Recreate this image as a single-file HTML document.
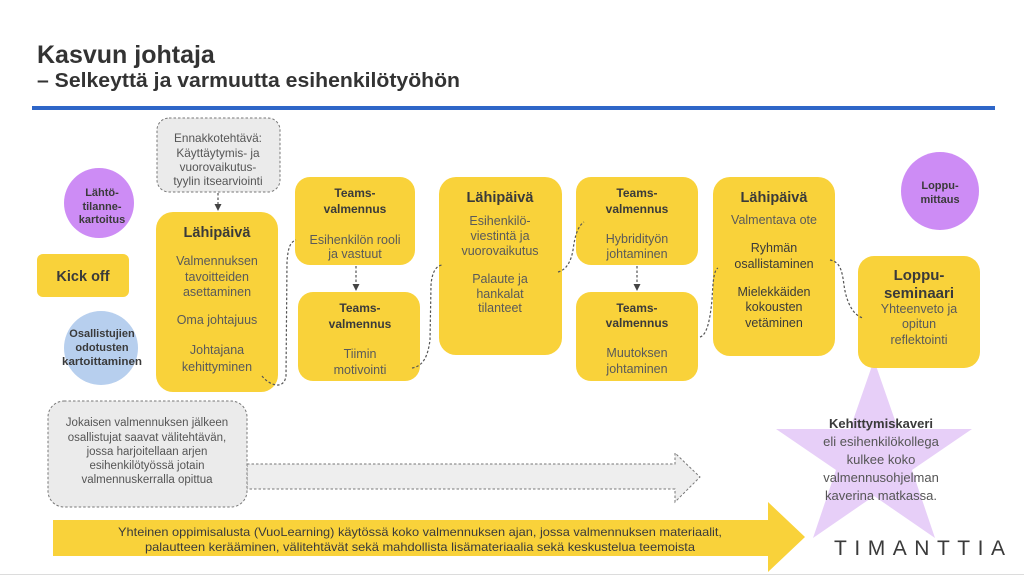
<!DOCTYPE html>
<html><head><meta charset="utf-8"><style>
html,body{margin:0;padding:0;background:#fff;}
svg{display:block;}
text{font-family:"Liberation Sans",Arial,sans-serif;}
.h{font-weight:bold;fill:#3a3a3a;}
.b{fill:#5a5a5a;font-size:12.5px;}
.d{fill:#3a3a3a;font-size:12.5px;}
.c{stroke:#555;stroke-width:1.2;fill:none;stroke-dasharray:2.5 2;}
</style></head><body>
<svg width="1024" height="576" viewBox="0 0 1024 576" xmlns="http://www.w3.org/2000/svg">
<rect width="1024" height="576" fill="#fff"/>
<!-- title -->
<text x="37" y="63" font-size="25" font-weight="bold" fill="#333">Kasvun johtaja</text>
<text x="37" y="87" font-size="20" font-weight="bold" fill="#333" textLength="423" lengthAdjust="spacingAndGlyphs">– Selkeyttä ja varmuutta esihenkilötyöhön</text>
<rect x="32" y="106" width="963" height="4" fill="#2e66c8"/>

<!-- star -->
<polygon points="874,360 898,429 972,429 912,470 935,538 874,496 813,538 836,470 776,429 850,429" fill="#e7cff8"/>

<!-- Ennakko -->
<rect x="157" y="118" width="123" height="74" rx="12" fill="#ebebeb" stroke="#777" stroke-width="1" stroke-dasharray="2.5 2"/>
<g text-anchor="middle" font-size="11.8" fill="#555">
<text x="218" y="142">Ennakkotehtävä:</text>
<text x="218" y="157">Käyttäytymis- ja</text>
<text x="218" y="171">vuorovaikutus-</text>
<text x="218" y="185">tyylin itsearviointi</text>
</g>
<line x1="218" y1="193" x2="218" y2="205" class="c"/>
<polygon points="214.5,204 221.5,204 218,211" fill="#444"/>

<!-- circles -->
<circle cx="99" cy="203" r="35" fill="#cd8cf5"/>
<g text-anchor="middle" font-size="11" class="h">
<text x="102" y="196">Lähtö-</text>
<text x="102" y="210">tilanne-</text>
<text x="102" y="223">kartoitus</text>
</g>
<circle cx="101" cy="348" r="37" fill="#b7cfee"/>
<g text-anchor="middle" font-size="11" class="h">
<text x="102" y="337">Osallistujien</text>
<text x="102" y="351">odotusten</text>
<text x="102" y="365" textLength="80" lengthAdjust="spacingAndGlyphs">kartoittaminen</text>
</g>
<circle cx="940" cy="191" r="39" fill="#cd8cf5"/>
<g text-anchor="middle" font-size="11" class="h">
<text x="940" y="189">Loppu-</text>
<text x="940" y="203">mittaus</text>
</g>

<!-- Kick off -->
<rect x="37" y="254" width="92" height="43" rx="6" fill="#f9d23a"/>
<text x="83" y="281" text-anchor="middle" font-size="14.5" class="h">Kick off</text>

<!-- yellow boxes -->
<g fill="#f9d23a">
<rect x="156" y="212" width="122" height="180" rx="17"/>
<rect x="295" y="177" width="120" height="88" rx="15"/>
<rect x="298" y="292" width="122" height="89" rx="15"/>
<rect x="439" y="177" width="123" height="178" rx="17"/>
<rect x="576" y="177" width="122" height="88" rx="15"/>
<rect x="576" y="292" width="122" height="89" rx="15"/>
<rect x="713" y="177" width="122" height="179" rx="17"/>
<rect x="858" y="256" width="122" height="112" rx="16"/>
</g>

<g text-anchor="middle">
<!-- Lähipäivä 1 -->
<text x="217" y="237" font-size="14.5" class="h">Lähipäivä</text>
<text x="217" y="265" class="b">Valmennuksen</text>
<text x="217" y="281" class="b">tavoitteiden</text>
<text x="217" y="296" class="b">asettaminen</text>
<text x="217" y="324" class="b">Oma johtajuus</text>
<text x="217" y="354" class="b">Johtajana</text>
<text x="217" y="371" class="b">kehittyminen</text>

<!-- Teams 1 -->
<text x="355" y="197" font-size="12" class="h">Teams-</text>
<text x="355" y="213" font-size="12" class="h">valmennus</text>
<text x="355" y="244" class="b">Esihenkilön rooli</text>
<text x="355" y="258" class="b">ja vastuut</text>
<!-- Teams 2 -->
<text x="360" y="312" font-size="12" class="h">Teams-</text>
<text x="360" y="328" font-size="12" class="h">valmennus</text>
<text x="360" y="358" class="b">Tiimin</text>
<text x="360" y="374" class="b">motivointi</text>

<!-- Lähipäivä 2 -->
<text x="500" y="202" font-size="14.5" class="h">Lähipäivä</text>
<text x="500" y="225" class="b">Esihenkilö-</text>
<text x="500" y="240" class="b">viestintä ja</text>
<text x="500" y="255" class="b">vuorovaikutus</text>
<text x="500" y="283" class="b">Palaute ja</text>
<text x="500" y="298" class="b">hankalat</text>
<text x="500" y="312" class="b">tilanteet</text>

<!-- Teams 3 -->
<text x="637" y="197" font-size="12" class="h">Teams-</text>
<text x="637" y="213" font-size="12" class="h">valmennus</text>
<text x="637" y="243" class="b">Hybridityön</text>
<text x="637" y="258" class="b">johtaminen</text>
<!-- Teams 4 -->
<text x="637" y="312" font-size="12" class="h">Teams-</text>
<text x="637" y="327" font-size="12" class="h">valmennus</text>
<text x="637" y="357" class="b">Muutoksen</text>
<text x="637" y="373" class="b">johtaminen</text>

<!-- Lähipäivä 3 -->
<text x="774" y="202" font-size="14.5" class="h">Lähipäivä</text>
<text x="774" y="224" class="b">Valmentava ote</text>
<text x="774" y="252" class="d">Ryhmän</text>
<text x="774" y="268" class="d">osallistaminen</text>
<text x="774" y="296" class="d">Mielekkäiden</text>
<text x="774" y="311" class="d">kokousten</text>
<text x="774" y="327" class="d">vetäminen</text>

<!-- Loppuseminaari -->
<text x="919" y="280" font-size="15" class="h">Loppu-</text>
<text x="919" y="298" font-size="15" class="h">seminaari</text>
<text x="919" y="313" class="b">Yhteenveto ja</text>
<text x="919" y="328" class="b">opitun</text>
<text x="919" y="344" class="b">reflektointi</text>
</g>

<!-- vertical arrows -->
<line x1="356" y1="266" x2="356" y2="285" class="c"/>
<polygon points="352.5,284 359.5,284 356,291" fill="#444"/>
<line x1="637" y1="266" x2="637" y2="285" class="c"/>
<polygon points="633.5,284 640.5,284 637,291" fill="#444"/>

<!-- connectors -->
<path class="c" d="M262,376 C270,386 284,390 286,376 L287,262 C288,248 290,242 296,240"/>
<path class="c" d="M412,368 C424,366 428,355 430,340 L431,285 C432,272 436,266 442,265"/>
<path class="c" d="M558,272 C566,270 571,262 573,250 C575,235 578,226 584,222"/>
<path class="c" d="M700,337 C707,335 710,320 712,300 C713,280 714,270 718,268"/>
<path class="c" d="M830,260 C840,262 842,270 844,285 C846,300 852,315 863,318"/>

<!-- gray box + gray arrow -->
<polygon points="247,464 675,464 675,453 700,477 675,502 675,489 247,489" fill="#eeeeee" stroke="#777" stroke-width="1" stroke-dasharray="2.5 2"/>
<rect x="48" y="401" width="199" height="106" rx="16" fill="#ebebeb" stroke="#777" stroke-width="1" stroke-dasharray="2.5 2"/>
<g text-anchor="middle" font-size="11.5" fill="#555">
<text x="147" y="426">Jokaisen valmennuksen jälkeen</text>
<text x="147" y="441">osallistujat saavat välitehtävän,</text>
<text x="147" y="455">jossa harjoitellaan arjen</text>
<text x="147" y="469">esihenkilötyössä jotain</text>
<text x="147" y="483">valmennuskerralla opittua</text>
</g>

<!-- yellow arrow -->
<polygon points="53,520 768,520 768,502 805,537 768,572 768,556 53,556" fill="#f9d23a"/>
<g text-anchor="middle" font-size="12" fill="#3a3a3a">
<text x="420" y="536" textLength="604" lengthAdjust="spacingAndGlyphs">Yhteinen oppimisalusta (VuoLearning) käytössä koko valmennuksen ajan, jossa valmennuksen materiaalit,</text>
<text x="420" y="551" textLength="550" lengthAdjust="spacingAndGlyphs">palautteen kerääminen, välitehtävät sekä mahdollista lisämateriaalia sekä keskustelua teemoista</text>
</g>

<!-- star text -->
<g text-anchor="middle" font-size="13">
<text x="881" y="428" font-weight="bold" fill="#3a3a3a">Kehittymiskaveri</text>
<text x="881" y="446" fill="#555">eli esihenkilökollega</text>
<text x="881" y="464" fill="#555">kulkee koko</text>
<text x="881" y="482" fill="#555">valmennusohjelman</text>
<text x="881" y="500" fill="#555">kaverina matkassa.</text>
</g>

<!-- logo -->
<text x="834" y="555" font-size="21" fill="#3a3a3a" textLength="171" lengthAdjust="spacing">TIMANTTIA</text>

<line x1="0" y1="574.5" x2="1024" y2="574.5" stroke="#dcdcdc" stroke-width="1"/>
</svg>
</body></html>
